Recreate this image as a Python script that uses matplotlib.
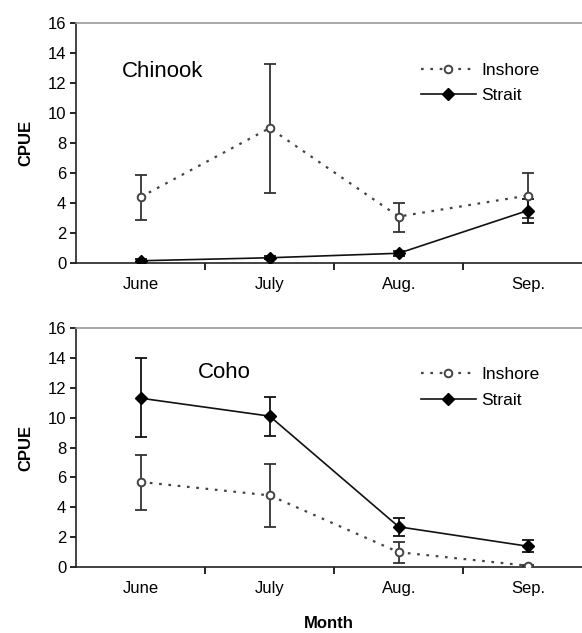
import numpy as np
import matplotlib
matplotlib.use("Agg")
import matplotlib.pyplot as plt

plt.rcParams['font.family'] = ['Liberation Sans', 'DejaVu Sans']

months = ["June", "July", "Aug.", "Sep."]

# Chinook
chinook_inshore = [4.4, 9.0, 3.1, 4.5]
chinook_inshore_lo = [2.9, 4.7, 2.1, 3.0]
chinook_inshore_hi = [5.9, 13.3, 4.0, 6.0]
chinook_strait = [0.15, 0.35, 0.65, 3.5]
chinook_strait_lo = [0.05, 0.25, 0.5, 2.65]
chinook_strait_hi = [0.25, 0.45, 0.8, 4.3]

# Coho
coho_inshore = [5.7, 4.8, 1.0, 0.1]
coho_inshore_lo = [3.8, 2.7, 0.3, 0.05]
coho_inshore_hi = [7.5, 6.9, 1.7, 0.15]
coho_strait = [11.3, 10.1, 2.7, 1.4]
coho_strait_lo = [8.7, 8.8, 2.1, 1.0]
coho_strait_hi = [14.0, 11.4, 3.3, 1.8]

panels = [
    ("Chinook", chinook_inshore, chinook_inshore_lo, chinook_inshore_hi,
     chinook_strait, chinook_strait_lo, chinook_strait_hi, (0.09, 0.80)),
    ("Coho", coho_inshore, coho_inshore_lo, coho_inshore_hi,
     coho_strait, coho_strait_lo, coho_strait_hi, (0.24, 0.815)),
]

fig = plt.figure(figsize=(5.82, 6.33), dpi=100)
ax_top = fig.add_axes([0.1306, 0.5845, 0.8694, 0.379])
ax_bot = fig.add_axes([0.1306, 0.104, 0.8694, 0.378])

x = np.arange(len(months)) + 0.5

for ax, (name, ins, ins_lo, ins_hi, st, st_lo, st_hi, tpos) in zip([ax_top, ax_bot], panels):
    ins = np.array(ins)
    st = np.array(st)
    ins_err = [ins - np.array(ins_lo), np.array(ins_hi) - ins]
    st_err = [st - np.array(st_lo), np.array(st_hi) - st]

    ax.errorbar(x, ins, yerr=ins_err, fmt='none', ecolor='#333333',
                elinewidth=1.3, capsize=4.5, capthick=1.3, zorder=2)
    ax.errorbar(x, st, yerr=st_err, fmt='none', ecolor='#111111',
                elinewidth=1.3, capsize=4.5, capthick=1.3, zorder=2)
    ax.plot(x, ins, linestyle=(0, (1.2, 3)), color='#444444', lw=1.6,
            marker='o', markersize=5.5, markerfacecolor='white',
            markeredgecolor='#444444', markeredgewidth=1.4, label='Inshore', zorder=3)
    ax.plot(x, st, linestyle='-', color='#111111', lw=1.2,
            marker='D', markersize=6.5, markerfacecolor='black',
            markeredgecolor='black', label='Strait', zorder=4)

    ax.set_xlim(0, 3.92)
    ax.set_ylim(0, 16)
    ax.set_yticks(np.arange(0, 17, 2))
    ax.set_xticks(x)
    ax.set_xticklabels(months)
    ax.set_xticks([1, 2, 3], minor=True)
    ax.tick_params(axis='x', which='major', length=0, pad=10, labelsize=12)
    ax.tick_params(axis='x', which='minor', length=5, direction='out', width=1.2)
    ax.tick_params(axis='y', length=4, width=1.2, direction='out', labelsize=12, pad=3)

    ax.spines['right'].set_visible(False)
    ax.spines['top'].set_color('#999999')
    ax.spines['top'].set_linewidth(1.2)
    ax.spines['left'].set_linewidth(1.2)
    ax.spines['bottom'].set_linewidth(1.2)
    ax.spines['left'].set_color('#222222')
    ax.spines['bottom'].set_color('#222222')

    ax.set_ylabel("CPUE", fontsize=12, fontweight='bold', labelpad=10)
    ax.text(tpos[0], tpos[1], name, transform=ax.transAxes, fontsize=16,
            ha='left', va='center')

    ax.legend(loc='upper right', bbox_to_anchor=(0.93, 0.865), frameon=False,
              fontsize=12.5, handlelength=3.2, handletextpad=0.3, labelspacing=0.6,
              borderaxespad=0)

ax_bot.set_xlabel("Month", fontsize=12, fontweight='bold', labelpad=14)

fig.savefig("out.png", dpi=100)
